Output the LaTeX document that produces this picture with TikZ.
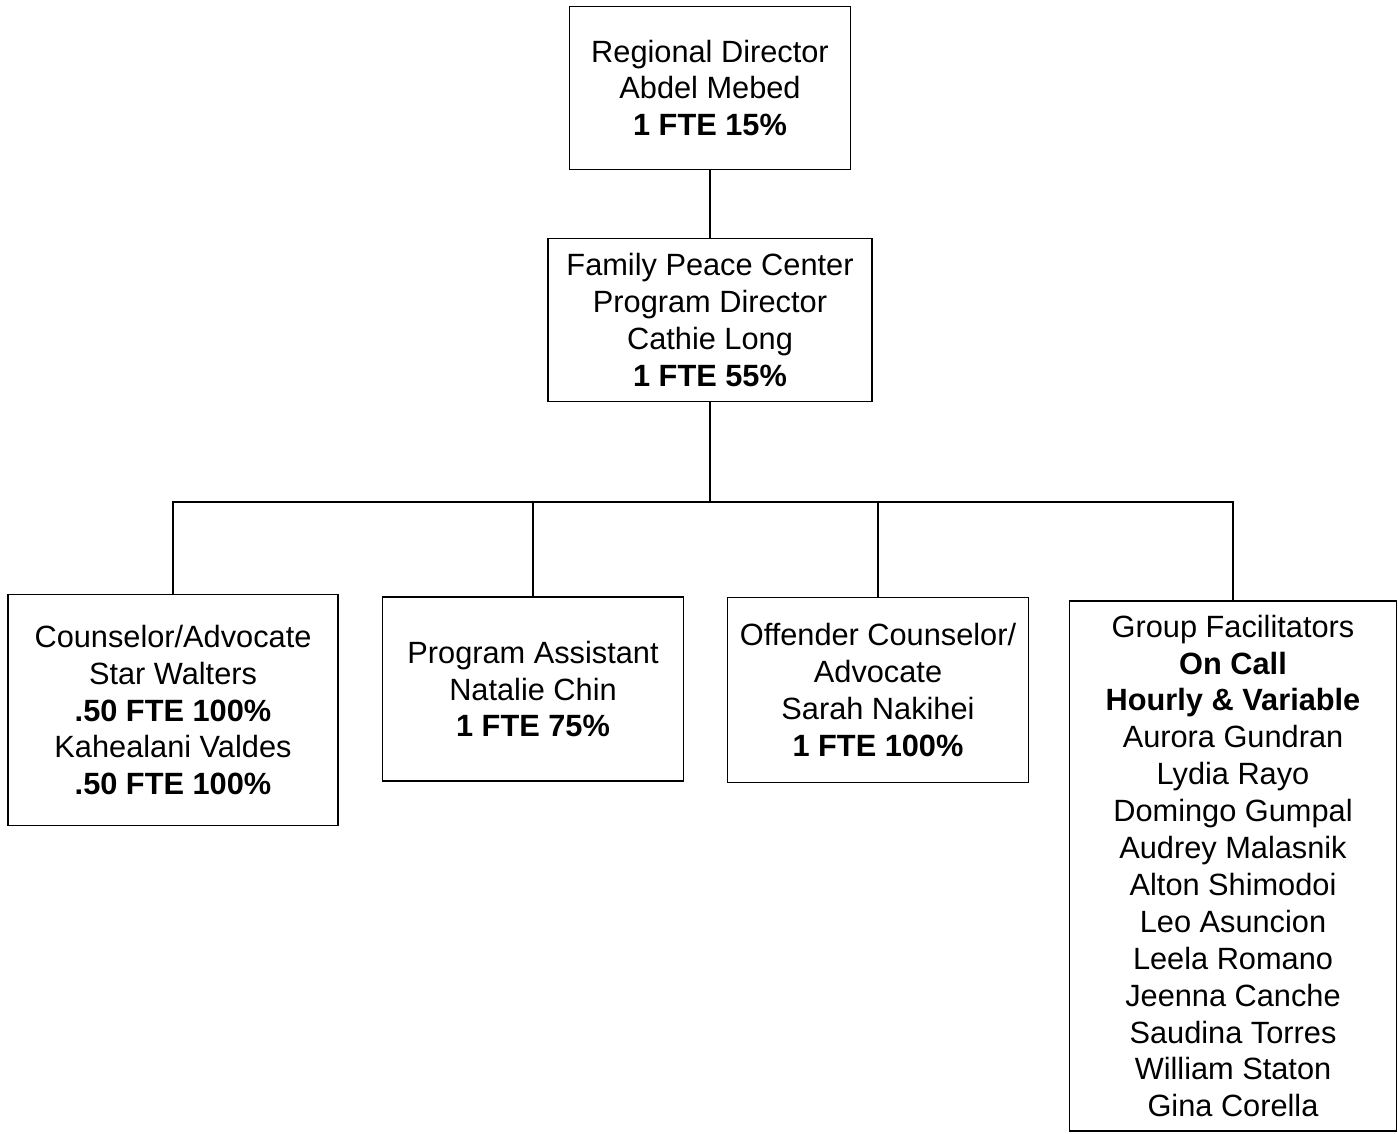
\documentclass[tikz,border=0pt]{standalone}
\usepackage{fontspec}
\setmainfont{Liberation Sans}
\begin{document}
\begin{tikzpicture}[x=0.02cm, y=-0.02cm,
		post/.style={draw, line width=1pt, align=center, inner sep=0pt, font=\fontsize{17.5}{21}\selectfont},
		link/.style={line width=1pt}]
	\useasboundingbox (0,0) rectangle (1398,1133);
	\node[post, minimum width=5.62cm, minimum height=3.26cm] (RD)at(710, 88) {Regional Director\\Abdel Mebed\\\textbf{1 FTE 15\%}};
	\node[post, minimum width=6.48cm, minimum height=3.26cm] (PD)at(710, 320) {Family Peace Center\\Program Director\\Cathie Long\\\textbf{1 FTE 55\%}};
	\node[post, minimum width=6.6cm, minimum height=4.62cm] (CA)at(173, 710) {Counselor/Advocate\\Star Walters\\\textbf{.50 FTE 100\%}\\Kahealani Valdes\\\textbf{.50 FTE 100\%}};
	\node[post, minimum width=6.02cm, minimum height=3.68cm] (PA)at(533, 689) {Program Assistant\\Natalie Chin\\\textbf{1 FTE 75\%}};
	\node[post, minimum width=6.02cm, minimum height=3.7cm] (OC)at(878, 690) {Offender Counselor/\\Advocate\\Sarah Nakihei\\\textbf{1 FTE 100\%}};
	\node[post, minimum width=6.54cm, minimum height=10.6cm] (GF)at(1233, 866) {Group Facilitators\\\textbf{On Call}\\\textbf{Hourly \& Variable}\\Aurora Gundran\\Lydia Rayo\\Domingo Gumpal\\Audrey Malasnik\\Alton Shimodoi\\Leo Asuncion\\Leela Romano\\Jeenna Canche\\Saudina Torres\\William Staton\\Gina Corella};
	\coordinate (bus)at(710, 502);
	\draw[link] (RD) -- (PD);
	\draw[link] (PD) -- (bus);
	\draw[link] (bus) -| (CA.north);
	\draw[link] (bus) -| (PA.north);
	\draw[link] (bus) -| (OC.north);
	\draw[link] (bus) -| (GF.north);
\end{tikzpicture}
\end{document}
